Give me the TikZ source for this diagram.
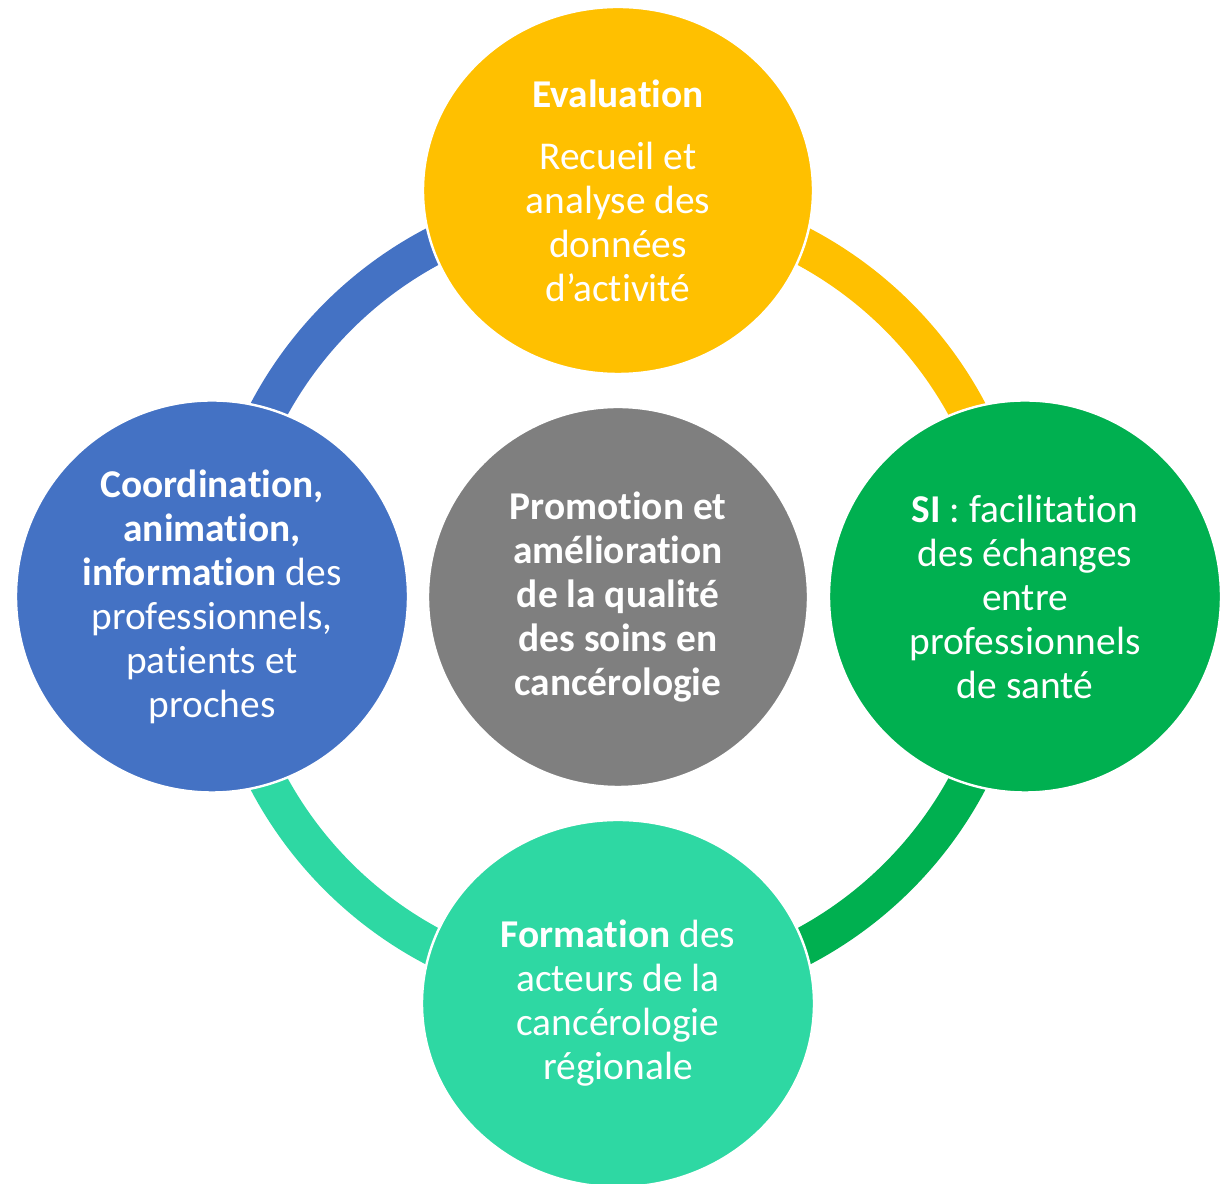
\documentclass[tikz,border=0pt]{standalone}
\usepackage{fontspec}
\setmainfont[Ligatures=NoCommon]{Carlito}
\usetikzlibrary{shapes.geometric}
\definecolor{evalyellow}{HTML}{FFC000}
\definecolor{siGreen}{HTML}{00B050}
\definecolor{formTeal}{HTML}{2ED8A3}
\definecolor{coordBlue}{HTML}{4472C4}
\definecolor{promoGray}{HTML}{7F7F7F}
\tikzset{
	bulle/.style={ellipse, draw=white, line width=1.2pt, inner sep=0pt, text=white,
		align=center, font=\fontsize{19.7}{22}\selectfont},
	anneau/.style={line width=19pt},
}

\begin{document}
\begin{tikzpicture}[x=0.5pt, y=0.5pt]
	\useasboundingbox (0,0) rectangle (1223,1184);
	\coordinate (centre) at (618,587.5);

	% l'anneau, un quart par couleur
		\draw[anneau, evalyellow] (centre) ++(90:396) arc[start angle=90, end angle=0, radius=396];
		\draw[anneau, siGreen] (centre) ++(0:396) arc[start angle=0, end angle=-90, radius=396];
		\draw[anneau, formTeal] (centre) ++(-90:396) arc[start angle=-90, end angle=-180, radius=396];
		\draw[anneau, coordBlue] (centre) ++(180:396) arc[start angle=180, end angle=90, radius=396];

	% les bulles
		\node[bulle, fill=evalyellow, minimum width=195pt, minimum height=183.5pt] (eval) at (618,993.5)
			{\textbf{Evaluation}\\[9pt] Recueil et\\ analyse des\\ données\\ d’activité};
		\node[bulle, fill=siGreen, minimum width=196pt, minimum height=196pt] (si) at (1025,587.5)
			{\textbf{SI} : facilitation\\ des échanges\\ entre\\ professionnels\\ de santé};
		\node[bulle, fill=formTeal, minimum width=196pt, minimum height=183.5pt] (formation) at (618,180.5)
			{\textbf{Formation} des\\ acteurs de la\\ cancérologie\\ régionale};
		\node[bulle, fill=coordBlue, minimum width=196pt, minimum height=196pt] (coord) at (212,587.5)
			{\textbf{Coordination,}\\ \textbf{animation,}\\ \textbf{information} des\\ professionnels,\\ patients et\\ proches};
		\node[bulle, fill=promoGray, minimum width=190pt, minimum height=190pt] (promo) at (618,587)
			{\textbf{Promotion et}\\ \textbf{amélioration}\\ \textbf{de la qualité}\\ \textbf{des soins en}\\ \textbf{cancérologie}};
\end{tikzpicture}
\end{document}
